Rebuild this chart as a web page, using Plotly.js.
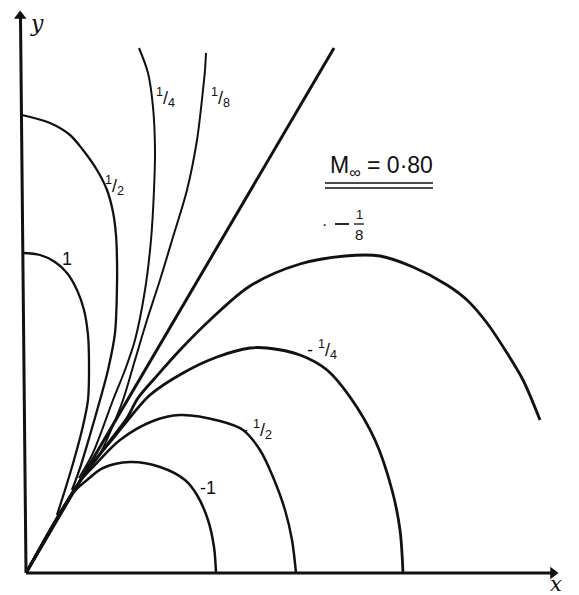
<!DOCTYPE html>
<html>
<head>
<meta charset="utf-8">
<script src="https://cdn.plot.ly/plotly-3.0.1.min.js"></script>
<style>
  html, body { margin: 0; padding: 0; background: #fff; }
  #chart { width: 579px; height: 595px; }
</style>
</head>
<body>
<div id="chart"></div>
<script>
// Isobar contours of the pressure coefficient around the origin, M∞ = 0.80.
// Positive levels (1, 1/2, 1/4, 1/8) open towards the y axis,
// negative levels (-1/8 ... -1) open towards the x axis.

const c1x   = [-0.03, 0.14, 0.29, 0.41, 0.51, 0.58, 0.62, 0.63, 0.62, 0.56, 0.48, 0.39, 0.31];
const c1y   = [3.20, 3.18, 3.11, 3.00, 2.83, 2.63, 2.38, 2.08, 1.73, 1.43, 1.13, 0.83, 0.58];

const c2x   = [-0.04, 0.24, 0.44, 0.57, 0.71, 0.81, 0.87, 0.90, 0.91, 0.91, 0.89, 0.82, 0.74, 0.64, 0.54, 0.46];
const c2y   = [4.58, 4.50, 4.38, 4.23, 4.03, 3.83, 3.61, 3.38, 3.13, 2.88, 2.40, 2.03, 1.73, 1.38, 1.05, 0.83];

const c4x   = [1.13, 1.22, 1.27, 1.29, 1.28, 1.25, 1.19, 1.09, 0.99, 0.87, 0.76, 0.66, 0.53];
const c4y   = [5.25, 5.00, 4.66, 4.23, 3.83, 3.33, 2.83, 2.33, 2.03, 1.73, 1.43, 1.18, 0.95];

const c8x   = [1.80, 1.79, 1.77, 1.71, 1.61, 1.47, 1.34, 1.21, 1.09, 0.97, 0.85, 0.73, 0.60];
const c8y   = [5.20, 5.03, 4.83, 4.33, 3.83, 3.36, 2.93, 2.53, 2.13, 1.73, 1.43, 1.18, 1.06];

// sonic / zero line through the origin
const zeroX = [0, 3.08];
const zeroY = [0, 5.25];

const m8x   = [0, 0.56, 0.71, 0.86, 1.01, 1.12, 1.29, 1.54, 1.84, 2.24, 2.74, 3.19, 3.54, 3.87, 4.21, 4.41, 4.61, 4.81, 4.97, 5.14];
const m8y   = [0, 0.95, 1.15, 1.35, 1.55, 1.75, 1.95, 2.23, 2.53, 2.87, 3.09, 3.17, 3.17, 3.06, 2.88, 2.73, 2.50, 2.20, 1.93, 1.53];

const m4x   = [0, 0.54, 0.71, 0.89, 1.06, 1.24, 1.57, 1.91, 2.24, 2.41, 2.74, 3.01, 3.24, 3.49, 3.66, 3.74, 3.77];
const m4y   = [0, 0.92, 1.15, 1.37, 1.58, 1.78, 2.00, 2.16, 2.25, 2.25, 2.18, 2.03, 1.76, 1.33, 0.83, 0.43, 0];

const m2x   = [0, 0.52, 0.69, 0.94, 1.27, 1.54, 1.94, 2.17, 2.34, 2.47, 2.59, 2.66, 2.70];
const m2y   = [0, 0.89, 1.08, 1.33, 1.52, 1.58, 1.52, 1.43, 1.23, 0.96, 0.63, 0.33, 0];

const m1x   = [0, 0.47, 0.61, 0.77, 1.04, 1.34, 1.59, 1.71, 1.82, 1.88, 1.90];
const m1y   = [0, 0.80, 0.93, 1.05, 1.11, 1.06, 0.93, 0.78, 0.53, 0.26, 0];

const ink = '#111';

function curve(x, y, w) {
  return {
    x: x, y: y, type: 'scatter', mode: 'lines', hoverinfo: 'skip',
    line: { color: ink, width: w, shape: 'spline', smoothing: 0.9 }
  };
}

const traces = [
  curve(c1x, c1y, 2.3),
  curve(c2x, c2y, 2.3),
  curve(c4x, c4y, 2.0),
  curve(c8x, c8y, 2.0),
  { x: zeroX, y: zeroY, type: 'scatter', mode: 'lines', hoverinfo: 'skip',
    line: { color: ink, width: 3 } },
  curve(m8x, m8y, 2.8),
  curve(m4x, m4y, 2.8),
  curve(m2x, m2y, 2.5),
  curve(m1x, m1y, 2.5),
  // axes
  { x: [0, 5.25], y: [0, 0], type: 'scatter', mode: 'lines', hoverinfo: 'skip',
    line: { color: ink, width: 3 } },
  { x: [0, -0.055], y: [0, 5.55], type: 'scatter', mode: 'lines', hoverinfo: 'skip',
    line: { color: ink, width: 3 } },
  // arrow heads at the axis ends
  { x: [-0.058, 5.27], y: [5.57, 0], type: 'scatter', mode: 'markers', hoverinfo: 'skip',
    marker: { symbol: ['triangle-up', 'triangle-right'], size: 11, color: ink, line: { width: 0 } } }
];

const labelFont = { family: 'Liberation Sans, Arial, sans-serif', size: 18, color: ink };

function label(text, x, y, size) {
  return {
    text: text, x: x, y: y, xref: 'x', yref: 'y', showarrow: false,
    font: Object.assign({}, labelFont, size ? { size: size } : {})
  };
}

const annotations = [
  { text: '<i>y</i>', x: 0.11, y: 5.50, xref: 'x', yref: 'y', showarrow: false,
    font: { family: 'DejaVu Serif, serif', size: 22, color: ink } },
  { text: '<i>x</i>', x: 5.30, y: -0.11, xref: 'x', yref: 'y', showarrow: false,
    font: { family: 'DejaVu Serif, serif', size: 21, color: ink } },

  // level labels
  label('<sup>1</sup>/<sub>4</sub>', 1.39, 4.76),
  label('<sup>1</sup>/<sub>8</sub>', 1.94, 4.76),
  label('<sup>1</sup>/<sub>2</sub>', 0.88, 3.88),
  label('1', 0.41, 3.14),
  label('- <sup>1</sup>/<sub>4</sub>', 2.96, 2.24),
  label('- <sup>1</sup>/<sub>2</sub>', 2.31, 1.44),
  label('-1', 1.82, 0.85),

  // -1/8 with a stacked fraction
  label('·', 2.98, 3.49, 16),
  label('1', 3.33, 3.585, 13),
  label('8', 3.33, 3.385, 15),

  // free-stream Mach number
  { text: 'M<sub>∞</sub> = 0·80', x: 3.55, y: 4.07, xref: 'x', yref: 'y', showarrow: false,
    font: { family: 'Liberation Sans, Arial, sans-serif', size: 23, color: ink } }
];

const shapes = [
  // double underline of the Mach number
  { type: 'line', xref: 'x', yref: 'y', x0: 2.99, x1: 4.07, y0: 3.90, y1: 3.90, line: { color: ink, width: 1.6 } },
  { type: 'line', xref: 'x', yref: 'y', x0: 2.99, x1: 4.07, y0: 3.85, y1: 3.85, line: { color: ink, width: 1.6 } },
  // minus sign and fraction bar of -1/8
  { type: 'line', xref: 'x', yref: 'y', x0: 3.09, x1: 3.23, y0: 3.49, y1: 3.49, line: { color: ink, width: 1.8 } },
  { type: 'line', xref: 'x', yref: 'y', x0: 3.28, x1: 3.38, y0: 3.49, y1: 3.49, line: { color: ink, width: 1.3 } }
];

const layout = {
  width: 579, height: 595,
  margin: { l: 0, r: 0, t: 0, b: 0 },
  paper_bgcolor: '#fff', plot_bgcolor: '#fff',
  showlegend: false,
  xaxis: { range: [-0.26, 5.53], visible: false, fixedrange: true },
  yaxis: { range: [-0.22, 5.73], visible: false, fixedrange: true },
  annotations: annotations,
  shapes: shapes
};

Plotly.newPlot('chart', traces, layout, { staticPlot: true, displayModeBar: false });
</script>
</body>
</html>
